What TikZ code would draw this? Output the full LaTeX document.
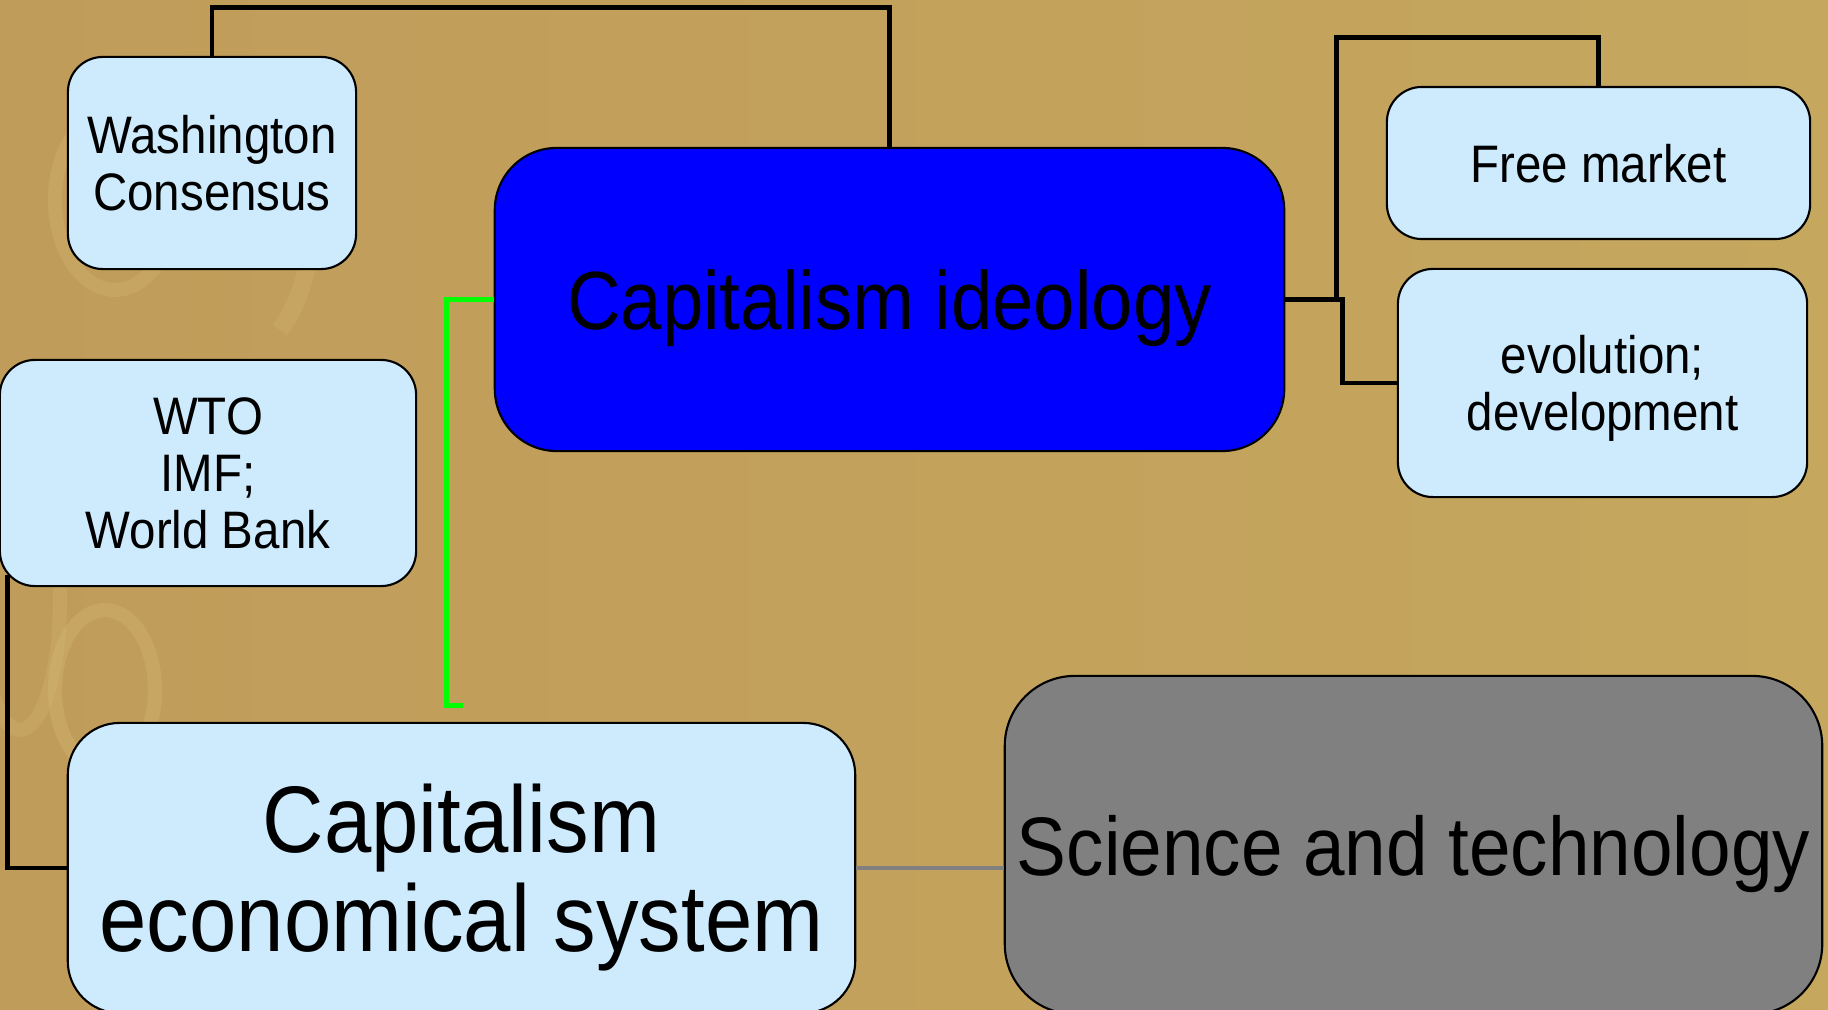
\documentclass[tikz,border=0pt]{standalone}
\usepackage{fontspec}
\setmainfont{Liberation Sans}[FakeStretch=0.9]
\usetikzlibrary{
  positioning,
  shapes
}

\definecolor{tanbg}{RGB}{197,167,94}
\definecolor{tanleft}{RGB}{192,156,90}
\definecolor{swirl}{RGB}{222,196,128}
\definecolor{paleblue}{RGB}{205,235,253}
\definecolor{linkgreen}{RGB}{0,255,0}
\definecolor{linkgray}{RGB}{128,128,128}

\tikzset{
  box/.style={draw=black, line width=0.6pt, rounded corners=0.35cm,
    align=center, inner sep=0pt, text=black, text depth=0pt},
  leaf/.style={box, fill=paleblue, font=\fontsize{15}{16.2}\selectfont},
  link/.style={draw=black, line width=1.4pt}
}

\begin{document}
\begin{tikzpicture}[x=0.01cm, y=-0.01cm]
            \useasboundingbox (0,0) rectangle (1828,1010);
            % backdrop
            \shade[left color=tanleft, right color=tanbg] (0,0) rectangle (1828,1010);
            \draw[swirl, opacity=.25, line width=4pt] (105,690) ellipse (50 and 80);
            \draw[swirl, opacity=.2, line width=4pt] (115,200) ellipse (60 and 90);
            \draw[swirl, opacity=.18, line width=4pt] (20,600) ellipse (40 and 130);
            \draw[swirl, opacity=.18, line width=5pt] (230,100) .. controls (320,150) and (330,260) .. (280,330);

            % boxes
            \node[leaf, minimum width=2.88cm, minimum height=2.12cm] (wash) at (212,163) {Washington\\Consensus};
            \node[leaf, minimum width=4.16cm, minimum height=2.26cm] (wto) at (208,473) {WTO\\IMF;\\World Bank};
            \node[box, fill=blue, rounded corners=0.62cm, minimum width=7.89cm, minimum height=3.03cm,
              font=\fontsize{23.5}{26}\selectfont] (ideo) at (889.5,299.5) {Capitalism ideology};
            \node[leaf, minimum width=4.23cm, minimum height=1.52cm] (free) at (1598.5,163) {Free market};
            \node[leaf, minimum width=4.09cm, minimum height=2.28cm] (evo) at (1602.5,383) {evolution;\\development};
            \node[box, fill=paleblue, rounded corners=0.52cm, minimum width=7.87cm, minimum height=2.90cm,
              font=\fontsize{26.9}{28.2}\selectfont] (econ) at (461.5,868) {Capitalism\\economical system};
            \node[box, fill=linkgray, rounded corners=0.7cm, minimum width=8.17cm, minimum height=3.38cm,
              font=\fontsize{23.6}{26}\selectfont] (sci) at (1413.5,845) {Science and technology};

            % links
            \draw[link] (wash.north) -- ++(0,-48) -| (ideo.north);
            \draw[link] (ideo.east) -- ++(51,0) -- ++(0,-262) -| (free.north);
            \draw[link] (ideo.east) -- ++(57,0) |- (evo.west);
            \draw[link, draw=linkgreen] (ideo.west) -- ++(-47,0) -- ++(0,406) -- ++(16,0);
            \draw[link] ([shift={(9,-12)}]wto.south west) |- (econ.west);
            \draw[link, draw=linkgray] (econ.east) -- (econ.east -| sci.west);
          \end{tikzpicture}
\end{document}
